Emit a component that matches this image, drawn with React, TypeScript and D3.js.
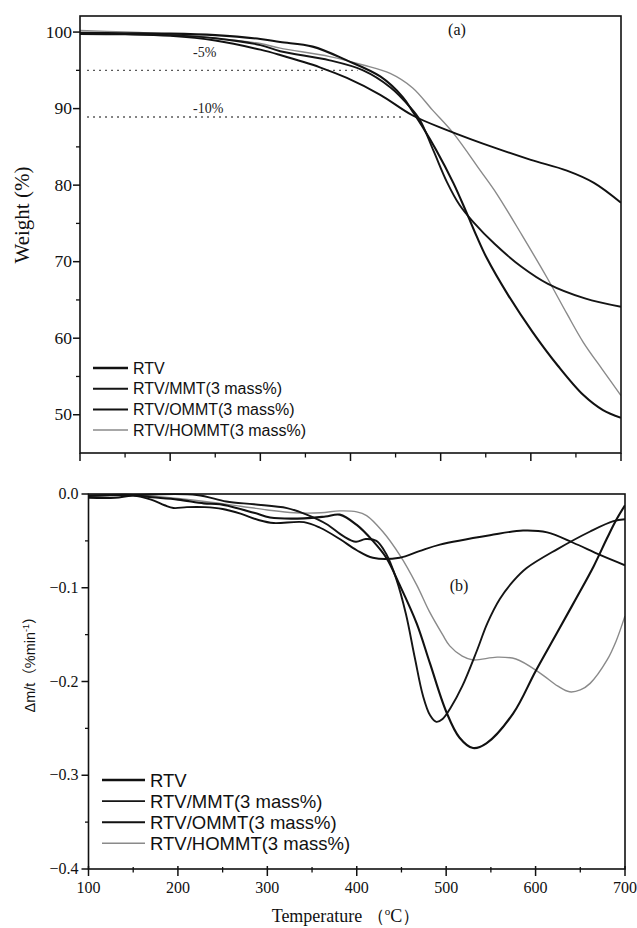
import React from "react";
import * as d3 from "d3";

// ---------- DATA ----------
const seriesNames = ["RTV", "RTV/MMT(3 mass%)", "RTV/OMMT(3 mass%)", "RTV/HOMMT(3 mass%)"];

// TGA (a): [temperature °C, weight %]
const tgaRTV: [number, number][] = [
  [100, 99.9], [150, 99.85], [200, 99.8], [250, 99.6], [300, 99.1], [322, 98.7], [358, 98.1], [396, 96.3],
  [433, 94.2], [458, 91.5], [469, 89.6], [480, 87.6], [495, 84.6], [514, 80.3], [528, 76.6], [540, 73.3],
  [551, 70.5], [575, 65.6], [602, 60.8], [630, 56.4], [658, 52.6], [680, 50.6], [700, 49.6],
];
const tgaMMT: [number, number][] = [
  [100, 99.8], [150, 99.75], [200, 99.6], [250, 99.2], [300, 98.3], [322, 97.5], [377, 96.3], [414, 95.0],
  [444, 92.8], [466, 90.2], [477, 88.5], [492, 84.5], [507, 80.4], [521, 77.4], [536, 75.2], [560, 72.3],
  [590, 69.3], [619, 67.1], [660, 65.2], [700, 64.1],
];
const tgaOMMT: [number, number][] = [
  [100, 99.75], [150, 99.7], [200, 99.5], [250, 98.9], [300, 97.7], [322, 97.0], [366, 95.4], [396, 94.0],
  [433, 91.8], [469, 89.1], [507, 87.2], [562, 84.8], [600, 83.3], [640, 81.9], [670, 80.3], [700, 77.7],
];
const tgaHOMMT: [number, number][] = [
  [100, 100.2], [150, 100.0], [200, 99.7], [250, 99.2], [300, 98.5], [322, 97.9], [377, 96.8], [414, 95.7],
  [444, 94.6], [469, 92.7], [491, 89.8], [514, 86.8], [544, 81.9], [562, 78.9], [590, 73.5], [618, 67.9],
  [640, 63.2], [658, 59.5], [680, 55.8], [700, 52.5],
];

// DTG (b): [temperature °C, Δm/t %/min]
const dtgRTV: [number, number][] = [
  [100, -0.002], [150, -0.001], [165, -0.003], [200, -0.006], [229, -0.01], [247, -0.011], [285, -0.02],
  [303, -0.025], [341, -0.026], [365, -0.024], [381, -0.022], [400, -0.033], [418, -0.05], [433, -0.068],
  [448, -0.097], [467, -0.138], [482, -0.181], [500, -0.232], [515, -0.26], [530, -0.271], [545, -0.266],
  [575, -0.234], [600, -0.189], [624, -0.148], [645, -0.112], [665, -0.077], [680, -0.047], [690, -0.028],
  [700, -0.012],
];
const dtgMMT: [number, number][] = [
  [100, -0.002], [150, -0.001], [221, -0.001], [254, -0.008], [285, -0.011], [322, -0.015], [344, -0.022],
  [366, -0.032], [385, -0.045], [399, -0.051], [410, -0.048], [422, -0.05], [433, -0.064], [444, -0.09],
  [455, -0.128], [465, -0.175], [474, -0.215], [482, -0.236], [489, -0.243], [496, -0.24], [505, -0.228],
  [518, -0.205], [534, -0.168], [546, -0.138], [560, -0.112], [575, -0.093], [590, -0.079], [624, -0.059],
  [661, -0.04], [687, -0.029], [700, -0.027],
];
const dtgOMMT: [number, number][] = [
  [100, -0.004], [130, -0.004], [150, -0.002], [170, -0.006], [185, -0.012], [195, -0.015], [210, -0.014],
  [230, -0.014], [250, -0.016], [270, -0.021], [291, -0.028], [307, -0.031], [341, -0.03], [359, -0.036],
  [381, -0.048], [400, -0.06], [418, -0.068], [448, -0.068], [470, -0.061], [493, -0.054], [549, -0.044],
  [586, -0.039], [613, -0.041], [642, -0.052], [672, -0.065], [700, -0.076],
];
const dtgHOMMT: [number, number][] = [
  [100, -0.001], [150, -0.001], [180, -0.003], [230, -0.008], [270, -0.013], [300, -0.017], [330, -0.02],
  [360, -0.02], [381, -0.018], [400, -0.019], [411, -0.023], [429, -0.04], [448, -0.065], [467, -0.097],
  [481, -0.125], [496, -0.15], [504, -0.162], [518, -0.173], [530, -0.177], [557, -0.174], [578, -0.176],
  [605, -0.191], [625, -0.205], [638, -0.211], [650, -0.209], [661, -0.202], [680, -0.177], [690, -0.157],
  [700, -0.13],
];

const xTickMajor = [100, 200, 300, 400, 500, 600, 700];
const xTickMinor = [150, 250, 350, 450, 550, 650];
const tgaTickMajor = [50, 60, 70, 80, 90, 100];
const tgaTickMinor = [55, 65, 75, 85, 95];
const dtgTickMajor = [0, -0.1, -0.2, -0.3, -0.4];
const dtgTickMinor = [-0.05, -0.15, -0.25, -0.35];

// reference dotted lines: [weight level, T start, T end, label]
const lossLevels: [number, number, number, string][] = [
  [95, 108, 408, "-5%"],
  [88.9, 108, 460, "-10%"],
];

const SERIF = "'Liberation Serif', 'DejaVu Serif', serif";
const SANS = "'Liberation Sans', Arial, 'Noto Sans CJK SC', sans-serif";

const strokeStyles = [
  { color: "#111", width: 2.1, legendWidth: 2.6 },
  { color: "#151515", width: 1.9, legendWidth: 1.9 },
  { color: "#111", width: 1.9, legendWidth: 2.0 },
  { color: "#8a8a8a", width: 1.4, legendWidth: 1.5 },
];

export default function App() {
  const xTop = d3.scaleLinear().domain([100, 700]).range([80, 621]);
  const yTop = d3.scaleLinear().domain([45, 102.1]).range([453, 16]);
  const xBot = d3.scaleLinear().domain([100, 700]).range([88.5, 625]);
  const yBot = d3.scaleLinear().domain([-0.4, 0]).range([869, 494]);

  const lineTop = d3
    .line<[number, number]>()
    .x((d) => xTop(d[0]))
    .y((d) => yTop(d[1]))
    .curve(d3.curveCatmullRom.alpha(0.5));
  const lineBot = d3
    .line<[number, number]>()
    .x((d) => xBot(d[0]))
    .y((d) => yBot(d[1]))
    .curve(d3.curveCatmullRom.alpha(0.5));

  const tga = [tgaRTV, tgaMMT, tgaOMMT, tgaHOMMT];
  const dtg = [dtgRTV, dtgMMT, dtgOMMT, dtgHOMMT];
  const drawOrder = [3, 2, 1, 0];

  const [tx0, tx1] = xTop.range();
  const [ty0, ty1] = [yTop(45), yTop(102.1)];
  const [bx0, bx1] = xBot.range();
  const [by0, by1] = [yBot(-0.4), yBot(0)];

  return (
    <svg
      width={637}
      height={928}
      viewBox="0 0 637 928"
      style={{ position: "absolute", left: 0, top: 0, background: "#fff" }}
    >
      <rect x={0} y={0} width={637} height={928} fill="#fff" />
      <defs>
        <clipPath id="clipTop">
          <rect x={tx0} y={ty1} width={tx1 - tx0} height={ty0 - ty1} />
        </clipPath>
        <clipPath id="clipBot">
          <rect x={bx0} y={by1 - 1} width={bx1 - bx0} height={by0 - by1 + 1} />
        </clipPath>
      </defs>

      {/* ===== Panel (a) ===== */}
      {lossLevels.map(([w, t0, t1, lbl], i) => (
        <g key={"lv" + i}>
          <line
            x1={xTop(t0)}
            x2={xTop(t1)}
            y1={yTop(w)}
            y2={yTop(w)}
            stroke="#333"
            strokeWidth={1.3}
            strokeDasharray="1.6,4.4"
          />
          <text x={193} y={yTop(w) - (i === 0 ? 13 : 4.5)} fontFamily={SERIF} fontSize={14} fill="#222">
            {lbl}
          </text>
        </g>
      ))}
      <g clipPath="url(#clipTop)">
        {drawOrder.map((i) => (
          <path
            key={"tga" + i}
            d={lineTop(tga[i]) || ""}
            fill="none"
            stroke={strokeStyles[i].color}
            strokeWidth={strokeStyles[i].width}
          />
        ))}
      </g>
      {/* frame */}
      <rect x={tx0} y={ty1} width={tx1 - tx0} height={ty0 - ty1} fill="none" stroke="#111" strokeWidth={1.6} />
      {/* y ticks */}
      {tgaTickMajor.map((v) => (
        <g key={"tym" + v}>
          <line x1={tx0 - 7} x2={tx0} y1={yTop(v)} y2={yTop(v)} stroke="#111" strokeWidth={1.5} />
          <text x={tx0 - 8} y={yTop(v) + 5.5} textAnchor="end" fontFamily={SERIF} fontSize={17.5} fill="#111">
            {v}
          </text>
        </g>
      ))}
      {tgaTickMinor.map((v) => (
        <line key={"tyn" + v} x1={tx0 - 4} x2={tx0} y1={yTop(v)} y2={yTop(v)} stroke="#111" strokeWidth={1.3} />
      ))}
      {/* x ticks (no labels) */}
      {xTickMajor.map((v) => (
        <line key={"txm" + v} x1={xTop(v)} x2={xTop(v)} y1={ty0} y2={ty0 + 8} stroke="#111" strokeWidth={1.5} />
      ))}
      {xTickMinor.map((v) => (
        <line key={"txn" + v} x1={xTop(v)} x2={xTop(v)} y1={ty0} y2={ty0 + 4.5} stroke="#111" strokeWidth={1.3} />
      ))}
      <text x={457} y={35} textAnchor="middle" fontFamily={SERIF} fontSize={16} fill="#111">
        (a)
      </text>
      <text
        transform={`translate(29,215) rotate(-90)`}
        textAnchor="middle"
        fontFamily={SERIF}
        fontSize={21}
        fill="#111"
      >
        Weight (%)
      </text>
      {/* legend (a) */}
      {seriesNames.map((name, i) => {
        const y = 368 + i * 20.7;
        return (
          <g key={"la" + i}>
            <line x1={93} x2={128} y1={y} y2={y} stroke={strokeStyles[i].color} strokeWidth={strokeStyles[i].legendWidth} />
            <text x={133} y={y + 5.7} fontFamily={SANS} fontSize={16} fill="#111">
              {name}
            </text>
          </g>
        );
      })}

      {/* ===== Panel (b) ===== */}
      <g clipPath="url(#clipBot)">
        {drawOrder.map((i) => (
          <path
            key={"dtg" + i}
            d={lineBot(dtg[i]) || ""}
            fill="none"
            stroke={strokeStyles[i].color}
            strokeWidth={strokeStyles[i].width}
          />
        ))}
      </g>
      <rect x={bx0} y={by1} width={bx1 - bx0} height={by0 - by1} fill="none" stroke="#111" strokeWidth={1.6} />
      {dtgTickMajor.map((v) => (
        <g key={"bym" + v}>
          <line x1={bx0 - 7} x2={bx0} y1={yBot(v)} y2={yBot(v)} stroke="#111" strokeWidth={1.5} />
          <text x={bx0 - 10} y={yBot(v) + 5} textAnchor="end" fontFamily={SERIF} fontSize={16} fill="#111">
            {d3.format(".1f")(v)}
          </text>
        </g>
      ))}
      {dtgTickMinor.map((v) => (
        <line key={"byn" + v} x1={bx0 - 3.5} x2={bx0} y1={yBot(v)} y2={yBot(v)} stroke="#111" strokeWidth={1.3} />
      ))}
      {xTickMajor.map((v) => (
        <g key={"bxm" + v}>
          <line x1={xBot(v)} x2={xBot(v)} y1={by0 - 3} y2={by0 + 7} stroke="#111" strokeWidth={1.5} />
          <text x={xBot(v)} y={893} textAnchor="middle" fontFamily={SERIF} fontSize={16} fill="#111">
            {v}
          </text>
        </g>
      ))}
      {xTickMinor.map((v) => (
        <line key={"bxn" + v} x1={xBot(v)} x2={xBot(v)} y1={by0 - 2} y2={by0 + 3.5} stroke="#111" strokeWidth={1.3} />
      ))}
      <text x={459} y={591} textAnchor="middle" fontFamily={SERIF} fontSize={16} fill="#111">
        (b)
      </text>
      <text
        transform={`translate(35,661) rotate(-90)`}
        textAnchor="middle"
        fontFamily={SANS}
        fontSize={14.5}
        fill="#111"
      >
        Δm/t（%min
        <tspan fontSize={9} dy={-6}>
          -1
        </tspan>
        <tspan dy={6}>）</tspan>
      </text>
      <text x={346} y={922} textAnchor="middle" fontFamily={SERIF} fontSize={18} fill="#111">
        Temperature （
        <tspan fontSize={11} dy={-7}>
          o
        </tspan>
        <tspan dy={7}>C）</tspan>
      </text>
      {/* legend (b) */}
      {seriesNames.map((name, i) => {
        const y = 780 + i * 21.1;
        return (
          <g key={"lb" + i}>
            <line x1={102} x2={145} y1={y} y2={y} stroke={strokeStyles[i].color} strokeWidth={strokeStyles[i].legendWidth} />
            <text x={150} y={y + 6.5} fontFamily={SANS} fontSize={18.5} fill="#111">
              {name}
            </text>
          </g>
        );
      })}
    </svg>
  );
}
